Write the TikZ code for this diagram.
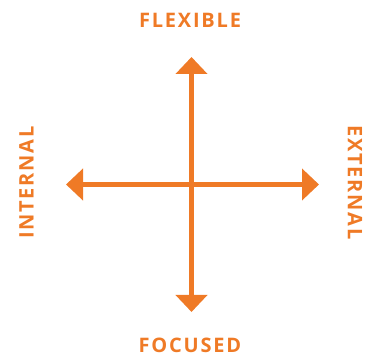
\documentclass[tikz,border=0pt]{standalone}
\usepackage{fontspec}
\newfontfamily\axisfont[LetterSpace=9]{Open Sans Bold}
\usetikzlibrary{arrows.meta}
\definecolor{axisorange}{RGB}{239,122,38}

\begin{document}
\begin{tikzpicture}[x=1pt, y=1pt, >={Triangle[length=17pt, width=31pt]},
    axis/.style={axisorange, line width=5pt},
    axislabel/.style={axisorange, font=\axisfont\fontsize{20}{20}\selectfont, inner sep=0pt}]

    \useasboundingbox (0, 0) rectangle (367, 358);

    \def\cx{191.5}
    \def\cy{173.5}
    \coordinate (top) at (\cx, 301);
    \coordinate (bottom) at (\cx, 46);
    \coordinate (left) at (66, \cy);
    \coordinate (right) at (319, \cy);

    \draw [axis, <->] (bottom) -- (top);
    \draw [axis, <->] (left) -- (right);

    \node [axislabel] (flexible) at (190, 337.5) {FLEXIBLE};
    \node [axislabel] (focused) at (190, 13) {FOCUSED};
    \node [axislabel, rotate=90] (internal) at (26.5, 175.5) {INTERNAL};
    \node [axislabel, rotate=-90] (external) at (355, 175.5) {EXTERNAL};

\end{tikzpicture}
\end{document}
